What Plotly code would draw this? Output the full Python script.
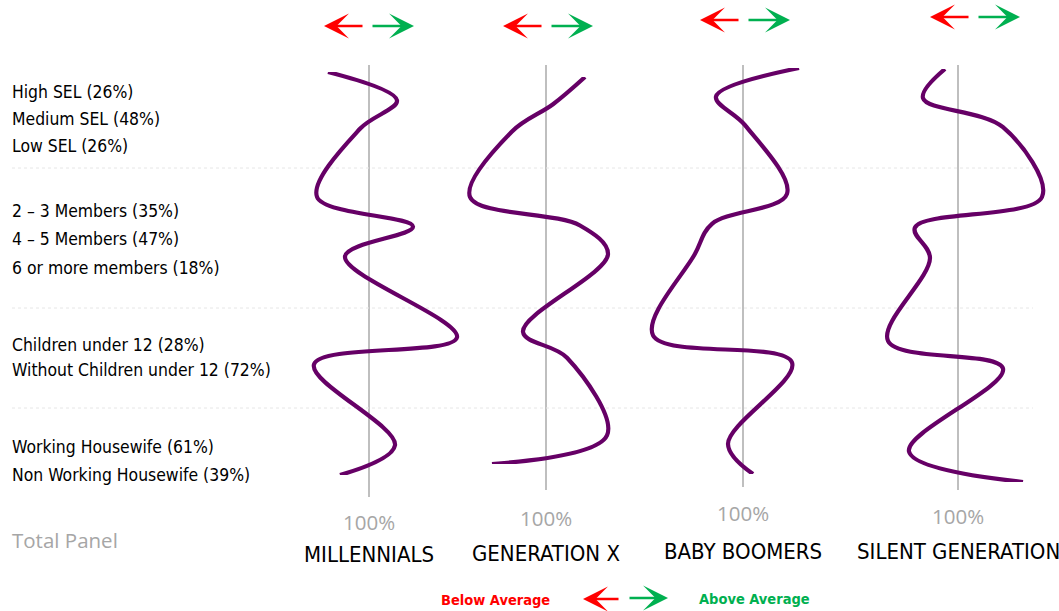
import plotly.graph_objects as go

W, H = 1059, 611

# Profile rows (share of the total panel)
row_labels = [
    "High SEL (26%)", "Medium SEL (48%)", "Low SEL (26%)",
    "2 \u2013 3 Members (35%)", "4 \u2013 5 Members (47%)", "6 or more members (18%)",
    "Children under 12 (28%)", "Without Children under 12 (72%)",
    "Working Housewife (61%)", "Non Working Housewife (39%)",
]
# vertical slot of each row (groups separated by a gap)
row_slots = [0, 1, 2, 4.4, 5.45, 6.5, 9.35, 10.3, 13.15, 14.2]

generations = ["MILLENNIALS", "GENERATION X", "BABY BOOMERS", "SILENT GENERATION"]

# Index vs. total panel (100 = average)
millennials = [59, 128, 91, 48, 144, 76, 188, 45, 126, 71]
generation_x = [139, 107, 66, 24, 134, 162, 77, 121, 161, 46]
baby_boomers = [156, 73, 102, 144, 69, 52, 10, 149, 85, 110]
silent_generation = [87, 65, 145, 184, 57, 72, 30, 145, 51, 165]

series = [millennials, generation_x, baby_boomers, silent_generation]
base_value = 100
base_label = "100%"

PURPLE = "#660066"
GRID = "#bfbfbf"
TXT_GRAY = "#a6a6a6"
RED = "#ff0000"
GREEN = "#00b050"
NARROW = "Liberation Sans Narrow, DejaVu Sans Condensed, sans-serif"


def px(v):
    return v / W


def py(v):
    return 1 - v / H


# panel geometry in pixels: x-domain, position of the 100 line, vertical extent of the curve
panels = [
    dict(x0=285, x1=465, c=369, top=72, bot=475, ltop=65, lbot=497, lab100=522, labname=554),
    dict(x0=465, x1=640, c=546, top=77, bot=464, ltop=65, lbot=490, lab100=518, labname=553),
    dict(x0=640, x1=840, c=743, top=68, bot=474, ltop=65, lbot=487, lab100=513, labname=551),
    dict(x0=850, x1=1059, c=958, top=69, bot=482, ltop=65, lbot=490, lab100=516, labname=551),
]

fig = go.Figure()
layout = {}
shapes = []
annotations = []

for i, (name, vals, p) in enumerate(zip(generations, series, panels)):
    k = "" if i == 0 else str(i + 1)
    xa, ya = "x" + k, "y" + k
    fig.add_trace(go.Scatter(
        x=vals, y=row_slots, xaxis=xa, yaxis=ya, mode="lines",
        line=dict(color=PURPLE, width=4.2, shape="spline", smoothing=1.0),
        hoverinfo="skip", showlegend=False, cliponaxis=False,
    ))
    layout["xaxis" + k] = dict(
        domain=[px(p["x0"]), px(p["x1"])],
        range=[base_value - (p["c"] - p["x0"]), base_value + (p["x1"] - p["c"])],
        visible=False, fixedrange=True, anchor=ya,
    )
    layout["yaxis" + k] = dict(
        domain=[py(p["bot"]), py(p["top"])],
        range=[row_slots[-1], row_slots[0]],
        visible=False, fixedrange=True, anchor=xa,
    )
    # average (100%) reference line
    shapes.append(dict(type="line", xref=xa, yref="paper",
                       x0=base_value, x1=base_value, y0=py(p["lbot"]), y1=py(p["ltop"]),
                       line=dict(color=GRID, width=2), layer="below"))
    annotations.append(dict(xref=xa, yref="paper", x=base_value, y=py(p["lab100"]),
                            text=base_label, showarrow=False, xanchor="center", yanchor="middle",
                            font=dict(family="Open Sans", size=20.5, color=TXT_GRAY)))
    annotations.append(dict(xref=xa, yref="paper", x=base_value, y=py(p["labname"]),
                            text=name, showarrow=False, xanchor="center", yanchor="middle",
                            font=dict(family=NARROW, size=22, color="black")))

# row labels on their own axis
fig.add_trace(go.Scatter(
    x=[0] * len(row_labels), y=row_slots, xaxis="x5", yaxis="y5", mode="text",
    text=row_labels, textposition="middle right",
    textfont=dict(family=NARROW, size=17.4, color="black"),
    hoverinfo="skip", showlegend=False, cliponaxis=False,
))
layout["xaxis5"] = dict(domain=[px(12), px(300)], range=[0, 1], visible=False, fixedrange=True, anchor="y5")
layout["yaxis5"] = dict(domain=[py(477), py(94)], range=[row_slots[-1], row_slots[0]],
                        visible=False, fixedrange=True, anchor="x5")

# light dotted separators between groups
for ysep in (168, 308, 408):
    shapes.append(dict(type="line", xref="paper", yref="paper", x0=px(12), x1=px(1033),
                       y0=py(ysep), y1=py(ysep),
                       line=dict(color="#e6e6e6", width=1, dash="dot"), layer="below"))

annotations.append(dict(xref="paper", yref="paper", x=px(10), y=py(540), text="Total Panel",
                        showarrow=False, xanchor="left", yanchor="middle",
                        font=dict(family="Open Sans", size=20.5, color=TXT_GRAY)))


def arrow(tip_x, tip_y, tail_x, color):
    return dict(xref="paper", yref="paper", x=px(tip_x), y=py(tip_y), text="",
                showarrow=True, axref="pixel", ayref="pixel", ax=tail_x - tip_x, ay=0,
                arrowhead=3, arrowsize=1.6, arrowwidth=2.6, arrowcolor=color, standoff=0)


# direction arrows above each panel
for (rt, rtail, gtail, gt, yy) in [(324, 364, 371, 414, 26), (503, 543, 550, 593, 26),
                                    (700, 740, 747, 790, 20), (930, 970, 977, 1020, 17)]:
    annotations.append(arrow(rt, yy, rtail, RED))
    annotations.append(arrow(gt, yy, gtail, GREEN))

# legend at the bottom
annotations.append(arrow(583, 599, 620, RED))
annotations.append(arrow(668, 598, 628, GREEN))
annotations.append(dict(xref="paper", yref="paper", x=px(552), y=py(600), text="<b>Below Average</b>",
                        showarrow=False, xanchor="right", yanchor="middle",
                        font=dict(family=NARROW, size=14.5, color=RED)))
annotations.append(dict(xref="paper", yref="paper", x=px(697), y=py(599), text="<b>Above Average</b>",
                        showarrow=False, xanchor="left", yanchor="middle",
                        font=dict(family=NARROW, size=14.5, color=GREEN)))

fig.update_layout(
    width=W, height=H, margin=dict(l=0, r=0, t=0, b=0),
    paper_bgcolor="white", plot_bgcolor="rgba(0,0,0,0)",
    showlegend=False, shapes=shapes, annotations=annotations, **layout,
)

fig.write_html("out.html", config={"displayModeBar": False})
